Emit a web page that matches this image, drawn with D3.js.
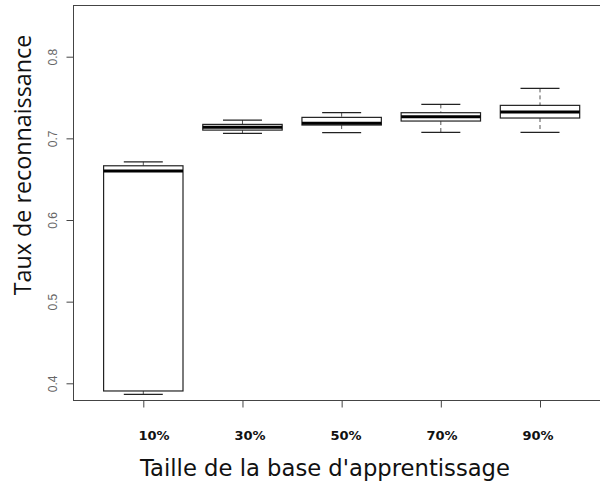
<!DOCTYPE html>
<html>
<head>
<meta charset="utf-8">
<script src="https://cdn.jsdelivr.net/npm/d3@7"></script>
<style>
  body { margin: 0; background: #fff; }
  svg { display: block; }
</style>
</head>
<body>
<svg id="chart" width="600" height="483"></svg>
<script>
const svg = d3.select("#chart");

// data
const categories = ["10%", "30%", "50%", "70%", "90%"];
const lowerWhisker = [0.3865, 0.7061, 0.7069, 0.7073, 0.7073];
const q1 = [0.3906, 0.7101, 0.7163, 0.7212, 0.7249];
const medians = [0.6600, 0.7135, 0.7184, 0.7265, 0.7322];
const q3 = [0.6664, 0.7171, 0.7257, 0.7314, 0.7404];
const upperWhisker = [0.6713, 0.7224, 0.7314, 0.7416, 0.7612];
const yTicks = [0.4, 0.5, 0.6, 0.7, 0.8];

const boxes = categories.map((c, i) => ({
    name: c, pos: i + 1,
    lo: lowerWhisker[i], q1: q1[i], med: medians[i], q3: q3[i], hi: upperWhisker[i]
}));

const LEFT = 73.5, TOP = 5.5, BOTTOM = 400.5, RIGHT = 605;
const xscale = d3.scaleLinear().domain([1, 5]).range([143.3, 540]);
const labelX = d3.scaleLinear().domain([1, 5]).range([154, 538]);
const yscale = d3.scaleLinear().domain([0.4, 0.8]).range([383.3, 56.7]);
const BOX_HALF = 39.7;
const CAP_HALF = 19.5;

// frame
svg.append("rect")
    .attr("x", LEFT).attr("y", TOP)
    .attr("width", RIGHT - LEFT).attr("height", BOTTOM - TOP)
    .attr("fill", "none")
    .attr("stroke", "#444")
    .attr("stroke-width", 1);

// y axis ticks + labels
const yAxis = d3.axisLeft(yscale).tickValues(yTicks).tickSize(7).tickFormat(d3.format(".1f"));
const gy = svg.append("g").attr("transform", `translate(${LEFT},0)`).call(yAxis);
gy.select(".domain").remove();
gy.selectAll(".tick line").attr("stroke", "#444");
gy.selectAll(".tick text")
    .attr("x", 0).attr("dy", 0)
    .attr("transform", "translate(-17,0) rotate(-90)")
    .attr("text-anchor", "middle")
    .style("font-family", "'Liberation Sans', Arial, sans-serif")
    .style("font-size", "12px")
    .attr("fill", "#666");

// x axis ticks
const xAxis = d3.axisBottom(xscale).tickValues(boxes.map(d => d.pos)).tickSize(7).tickFormat("");
const gx = svg.append("g").attr("transform", `translate(0,${BOTTOM})`).call(xAxis);
gx.select(".domain").remove();
gx.selectAll(".tick line").attr("stroke", "#444");

// category labels (bold, slightly off the ticks like in the original)
svg.selectAll(".cat").data(boxes).join("text")
    .attr("class", "cat")
    .attr("x", d => labelX(d.pos))
    .attr("y", 440)
    .attr("text-anchor", "middle")
    .style("font-family", "'DejaVu Sans', sans-serif")
    .style("font-weight", "bold")
    .style("font-size", "13px")
    .attr("fill", "#111")
    .text(d => d.name);

// boxes
const g = svg.selectAll(".box").data(boxes).join("g").attr("class", "box");

// whiskers (dashed)
g.append("line")
    .attr("x1", d => xscale(d.pos)).attr("x2", d => xscale(d.pos))
    .attr("y1", d => yscale(d.hi)).attr("y2", d => yscale(d.q3))
    .attr("stroke", "#555").attr("stroke-dasharray", "4,3");
g.append("line")
    .attr("x1", d => xscale(d.pos)).attr("x2", d => xscale(d.pos))
    .attr("y1", d => yscale(d.q1)).attr("y2", d => yscale(d.lo))
    .attr("stroke", "#555").attr("stroke-dasharray", "4,3");

// caps
["hi", "lo"].forEach(k => {
    g.append("line")
        .attr("x1", d => xscale(d.pos) - CAP_HALF).attr("x2", d => xscale(d.pos) + CAP_HALF)
        .attr("y1", d => yscale(d[k])).attr("y2", d => yscale(d[k]))
        .attr("stroke", "#222").attr("stroke-width", 1.2);
});

// box body
g.append("rect")
    .attr("x", d => xscale(d.pos) - BOX_HALF)
    .attr("width", BOX_HALF * 2)
    .attr("y", d => yscale(d.q3))
    .attr("height", d => yscale(d.q1) - yscale(d.q3))
    .attr("fill", "#fff")
    .attr("stroke", "#222")
    .attr("stroke-width", 1.2);

// median
g.append("line")
    .attr("x1", d => xscale(d.pos) - BOX_HALF).attr("x2", d => xscale(d.pos) + BOX_HALF)
    .attr("y1", d => yscale(d.med)).attr("y2", d => yscale(d.med))
    .attr("stroke", "#000").attr("stroke-width", 3);

// axis titles
svg.append("text")
    .attr("x", 325).attr("y", 476)
    .attr("text-anchor", "middle")
    .style("font-family", "'DejaVu Sans', sans-serif")
    .style("font-size", "22.7px")
    .attr("fill", "#111")
    .text("Taille de la base d'apprentissage");

svg.append("text")
    .attr("transform", "translate(31,165) rotate(-90)")
    .attr("text-anchor", "middle")
    .style("font-family", "'Open Sans', sans-serif")
    .style("font-size", "23.3px")
    .attr("fill", "#111")
    .text("Taux de reconnaissance");
</script>
</body>
</html>
